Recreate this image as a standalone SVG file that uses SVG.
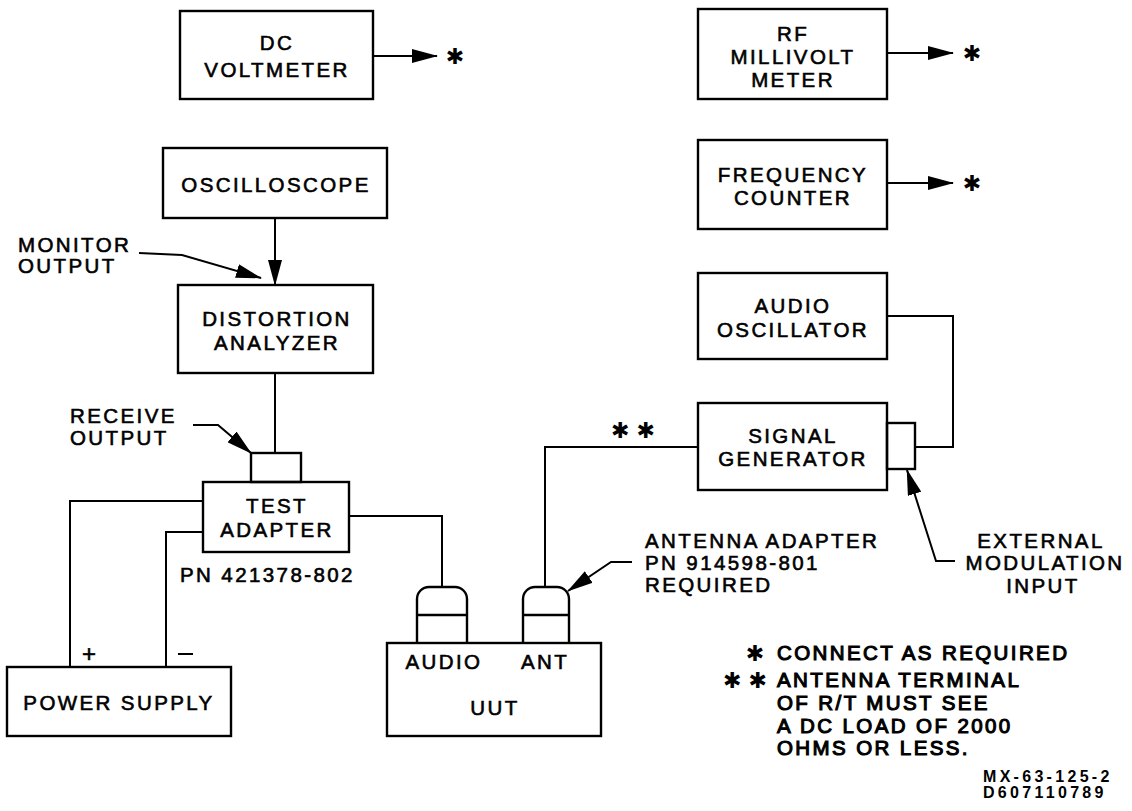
<svg xmlns="http://www.w3.org/2000/svg" width="1132" height="811" viewBox="0 0 1132 811">
<style>
.bx{fill:none;stroke:#000;stroke-width:2.4}
.ln{fill:none;stroke:#000;stroke-width:2}
.t{font-family:"Liberation Sans",Arial,sans-serif;font-size:20.5px;letter-spacing:2.4px;fill:#000;stroke:#000;stroke-width:0.6px;text-anchor:middle}
.l{text-anchor:start}
.n{stroke-width:1.1px}
.s{font-family:"DejaVu Sans",sans-serif;font-size:22px;fill:#000;text-anchor:middle;dominant-baseline:central}
.c{font-family:"Liberation Sans",Arial,sans-serif;font-size:16px;font-weight:bold;letter-spacing:3.3px;fill:#000}
</style>
<defs>
<marker id="ah" viewBox="0 0 26 14" refX="25" refY="7" markerWidth="26" markerHeight="14" markerUnits="userSpaceOnUse" orient="auto">
<path d="M0,0 L26,7 L0,14 Z" fill="#000"/>
</marker>
</defs>
<rect width="1132" height="811" fill="#fff"/>

<g id="dc-voltmeter">
<rect class="bx" x="180" y="11" width="193" height="88"/>
<text class="t" x="277" y="50">DC</text>
<text class="t" x="277" y="77">VOLTMETER</text>
</g>

<g id="rf-millivolt-meter">
<rect class="bx" x="698" y="9" width="189" height="90"/>
<text class="t" x="793" y="41">RF</text>
<text class="t" x="793" y="64">MILLIVOLT</text>
<text class="t" x="793" y="87">METER</text>
</g>

<g id="frequency-counter">
<rect class="bx" x="698" y="140" width="189" height="89"/>
<text class="t" x="793" y="182">FREQUENCY</text>
<text class="t" x="793" y="205">COUNTER</text>
</g>

<g id="oscilloscope">
<rect class="bx" x="163" y="148" width="224" height="70"/>
<text class="t" x="276" y="192">OSCILLOSCOPE</text>
</g>

<g id="distortion-analyzer">
<rect class="bx" x="178" y="285" width="195" height="88"/>
<text class="t" x="277" y="326">DISTORTION</text>
<text class="t" x="277" y="350">ANALYZER</text>
</g>

<g id="test-adapter">
<rect class="bx" x="251" y="453" width="50" height="29"/>
<rect class="bx" x="203" y="482" width="146" height="70"/>
<text class="t" x="277" y="513">TEST</text>
<text class="t" x="277" y="537">ADAPTER</text>
<text class="t l" x="180" y="582">PN 421378-802</text>
</g>

<g id="power-supply">
<rect class="bx" x="7" y="667" width="224" height="69"/>
<text class="t" x="119" y="710">POWER SUPPLY</text>
<text class="t" x="89" y="662" style="letter-spacing:0;font-size:24px">+</text>
<line class="ln" x1="178" y1="654" x2="193" y2="654"/>
</g>

<g id="uut">
<rect class="bx" x="387" y="643" width="214" height="93"/>
<path class="bx" d="M417,643 V599 A12,12 0 0 1 429,587 H455 A12,12 0 0 1 467,599 V643 M417,615 H467"/>
<path class="bx" d="M523,643 V599 A12,12 0 0 1 535,587 H557 A12,12 0 0 1 569,599 V643 M523,615 H569"/>
<text class="t" x="444" y="669">AUDIO</text>
<text class="t" x="545" y="669">ANT</text>
<text class="t" x="495" y="715">UUT</text>
</g>

<g id="audio-oscillator">
<rect class="bx" x="698" y="273" width="189" height="86"/>
<text class="t" x="793" y="313">AUDIO</text>
<text class="t" x="793" y="337">OSCILLATOR</text>
</g>

<g id="signal-generator">
<rect class="bx" x="698" y="403" width="189" height="87"/>
<rect class="bx" x="887" y="423" width="28" height="46"/>
<text class="t" x="793" y="443">SIGNAL</text>
<text class="t" x="793" y="466">GENERATOR</text>
</g>

<g id="connectors">
<line class="ln" x1="373" y1="56" x2="437" y2="56" marker-end="url(#ah)"/>
<line class="ln" x1="887" y1="53" x2="953" y2="53" marker-end="url(#ah)"/>
<line class="ln" x1="887" y1="183" x2="953" y2="183" marker-end="url(#ah)"/>
<line class="ln" x1="275" y1="218" x2="275" y2="285" marker-end="url(#ah)"/>
<path class="ln" d="M139,253 L182,255 L261,278" marker-end="url(#ah)"/>
<line class="ln" x1="275" y1="373" x2="275" y2="453"/>
<path class="ln" d="M193,425 L218,425 L251,453" marker-end="url(#ah)"/>
<path class="ln" d="M203,501 H70 V667"/>
<path class="ln" d="M203,532 H166 V667"/>
<path class="ln" d="M349,516 H442 V587"/>
<path class="ln" d="M545,587 V447 H698"/>
<path class="ln" d="M915,447 H953 V316 H887"/>
<path class="ln" d="M632,562 H611 L568,591" marker-end="url(#ah)"/>
<path class="ln" d="M955,561 H936 L907,470" marker-end="url(#ah)"/>
</g>

<g id="labels">
<text class="s" x="455" y="56">✱</text>
<text class="s" x="972" y="53">✱</text>
<text class="s" x="972" y="183">✱</text>
<text class="s" x="633" y="430">✱ ✱</text>
<text class="t l" x="18" y="252">MONITOR</text>
<text class="t l" x="18" y="273">OUTPUT</text>
<text class="t l" x="70" y="423">RECEIVE</text>
<text class="t l" x="70" y="445">OUTPUT</text>
<text class="t l" x="645" y="548">ANTENNA ADAPTER</text>
<text class="t l" x="645" y="570">PN 914598-801</text>
<text class="t l" x="645" y="592">REQUIRED</text>
<text class="t" x="1041" y="548">EXTERNAL</text>
<text class="t" x="1045" y="570">MODULATION</text>
<text class="t" x="1043" y="593">INPUT</text>
</g>

<g id="notes">
<text class="s" x="755" y="653">✱</text>
<text class="s" x="745" y="680">✱ ✱</text>
<text class="t l n" x="777" y="660">CONNECT AS REQUIRED</text>
<text class="t l n" x="777" y="687">ANTENNA TERMINAL</text>
<text class="t l n" x="777" y="710">OF R/T MUST SEE</text>
<text class="t l n" x="777" y="733">A DC LOAD OF 2000</text>
<text class="t l n" x="777" y="755">OHMS OR LESS.</text>
<text class="c" x="983" y="782">MX-63-125-2</text>
<text class="c" x="983" y="798">D607110789</text>
</g>
</svg>
